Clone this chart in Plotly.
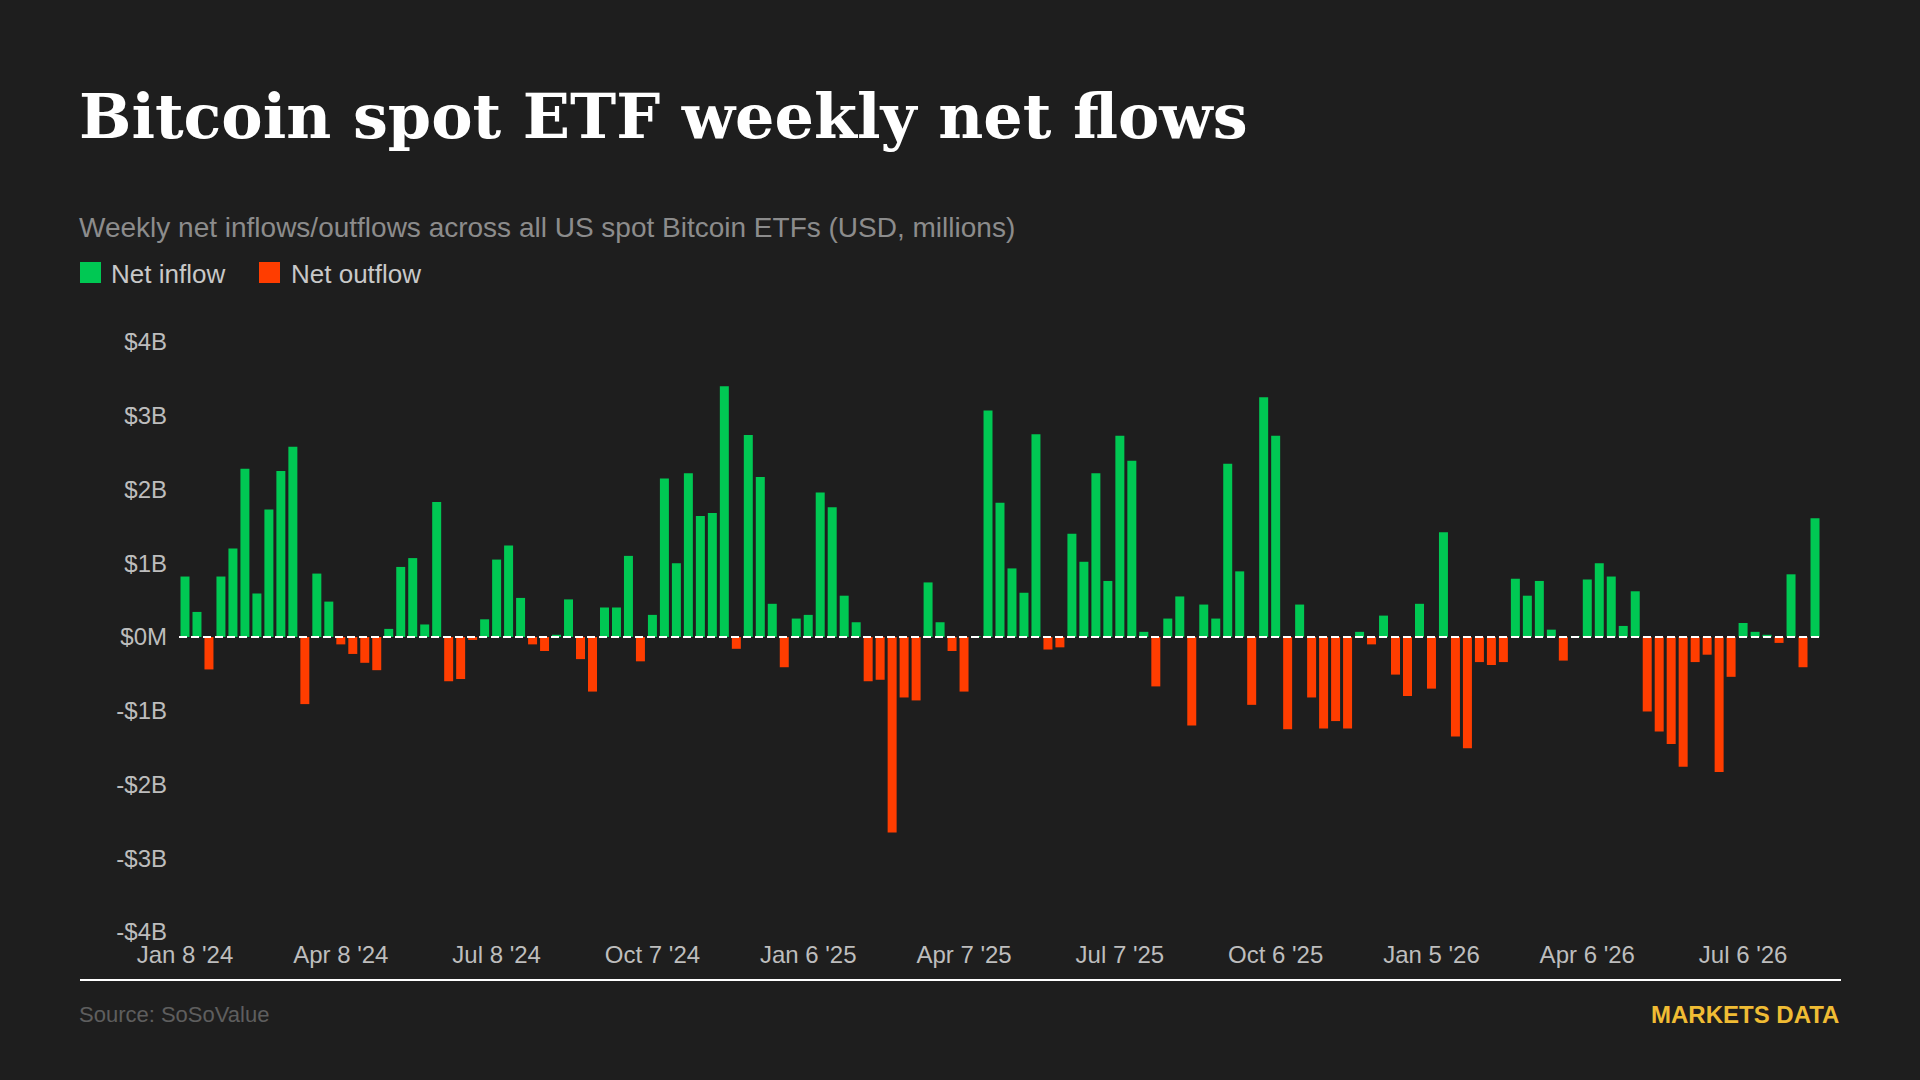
import pandas as pd
import plotly.graph_objects as go

# weekly net flows, USD millions
flows = [
    820, 340, -440, 820, 1200, 2280, 590, 1730, 2250, 2580,
    -910, 860, 480, -100, -230, -350, -450, 110, 950, 1070,
    170, 1830, -600, -570, -40, 240, 1050, 1240, 530, -100,
    -190, 30, 510, -300, -740, 400, 400, 1100, -330, 300,
    2150, 1000, 2220, 1640, 1680, 3400, -160, 2740, 2170, 450,
    -410, 250, 300, 1960, 1760, 560, 200, -600, -580, -2650,
    -820, -860, 740, 200, -190, -740, 10, 3070, 1820, 930,
    600, 2750, -170, -140, 1400, 1020, 2220, 760, 2730, 2390,
    70, -670, 250, 550, -1200, 440, 250, 2350, 890, -920,
    3250, 2730, -1250, 440, -820, -1240, -1140, -1240, 70, -100,
    290, -510, -800, 450, -700, 1420, -1350, -1510, -340, -380,
    -340, 790, 560, 760, 100, -320, 10, 780, 1000, 820,
    150, 620, -1010, -1280, -1450, -1760, -340, -240, -1830, -540,
    190, 70, 30, -80, 850, -410, 1610,
]
weeks = pd.date_range("2024-01-08", periods=len(flows), freq="7D")

tick_dates = ["2024-01-08", "2024-04-08", "2024-07-08", "2024-10-07", "2025-01-06", "2025-04-07",
              "2025-07-07", "2025-10-06", "2026-01-05", "2026-04-06", "2026-07-06"]
tick_labels = ["Jan 8 '24", "Apr 8 '24", "Jul 8 '24", "Oct 7 '24", "Jan 6 '25", "Apr 7 '25",
               "Jul 7 '25", "Oct 6 '25", "Jan 5 '26", "Apr 6 '26", "Jul 6 '26"]
y_ticks = [-4000, -3000, -2000, -1000, 0, 1000, 2000, 3000, 4000]
y_labels = ["-$4B", "-$3B", "-$2B", "-$1B", "$0M", "$1B", "$2B", "$3B", "$4B"]

inflow = [v if v > 0 else None for v in flows]
outflow = [v if v < 0 else None for v in flows]

GREEN = "#00c853"
RED = "#ff3d00"
BG = "#1e1e1e"

# plot area in pixels
W, H = 1920, 1080
L, R, T, B = 179, 1821, 342, 932

def px(x):
    return (x - L) / (R - L)

def py(y):
    return (B - y) / (B - T)

fig = go.Figure()
fig.add_trace(go.Bar(x=weeks, y=inflow, name="Net inflow", marker_color=GREEN, marker_line_width=0))
fig.add_trace(go.Bar(x=weeks, y=outflow, name="Net outflow", marker_color=RED, marker_line_width=0))

fig.update_layout(
    width=W, height=H,
    margin=dict(l=L, r=W - R, t=T, b=H - B),
    paper_bgcolor=BG, plot_bgcolor=BG,
    barmode="relative", bargap=0.25,
    showlegend=False,
    font=dict(family="Liberation Sans, Arial, sans-serif", color="#bdbdbd"),
)
fig.update_xaxes(
    type="date",
    range=[weeks[0] - pd.Timedelta(days=3.5), weeks[-1] + pd.Timedelta(days=3.5)],
    tickvals=pd.to_datetime(tick_dates), ticktext=tick_labels,
    showgrid=False, zeroline=False, showline=False, ticks="",
    ticklabelstandoff=6,
    tickfont=dict(size=24, color="#bdbdbd"),
)
fig.update_yaxes(
    range=[-4000, 4000], tickvals=y_ticks, ticktext=y_labels,
    showgrid=False, zeroline=False, showline=False, ticks="",
    ticklabelstandoff=11,
    tickfont=dict(size=24, color="#bdbdbd"),
)

# dashed zero line over the bars
fig.add_shape(type="line", xref="paper", yref="y", x0=0, x1=1, y0=0, y1=0,
              line=dict(color="white", width=2, dash="8px,4px"), layer="above")

# footer rule
fig.add_shape(type="line", xref="paper", yref="paper", x0=px(80), x1=px(1841), y0=py(980), y1=py(980),
              line=dict(color="white", width=2))

# legend
fig.add_shape(type="rect", xref="paper", yref="paper", x0=px(80), x1=px(101), y0=py(262), y1=py(283),
              fillcolor=GREEN, line_width=0)
fig.add_shape(type="rect", xref="paper", yref="paper", x0=px(259), x1=px(280), y0=py(262), y1=py(283),
              fillcolor=RED, line_width=0)

texts = [
    dict(text="Bitcoin spot ETF weekly net flows", x=77, y=117,
         font=dict(family="DejaVu Serif", size=62, color="white", weight="bold")),
    dict(text="Weekly net inflows/outflows across all US spot Bitcoin ETFs (USD, millions)", x=77, y=227,
         font=dict(size=28, color="#8c8c8c")),
    dict(text="Net inflow", x=109, y=274, font=dict(size=26, color="#c8c8c8")),
    dict(text="Net outflow", x=289, y=274, font=dict(size=26, color="#c8c8c8")),
    dict(text="Source: SoSoValue", x=77, y=1014, font=dict(size=22, color="#5e5e5e")),
]
for t in texts:
    fig.add_annotation(text=t["text"], xref="paper", yref="paper", x=px(t["x"]), y=py(t["y"]),
                       xanchor="left", yanchor="middle", showarrow=False, font=t["font"])
fig.add_annotation(text="MARKETS DATA", xref="paper", yref="paper", x=px(1841), y=py(1014),
                   xanchor="right", yanchor="middle", showarrow=False,
                   font=dict(size=24, color="#f0bc34", weight="bold"))

fig.write_html("out.html", config={"displayModeBar": False},
               post_script="document.body.style.margin='0';")
